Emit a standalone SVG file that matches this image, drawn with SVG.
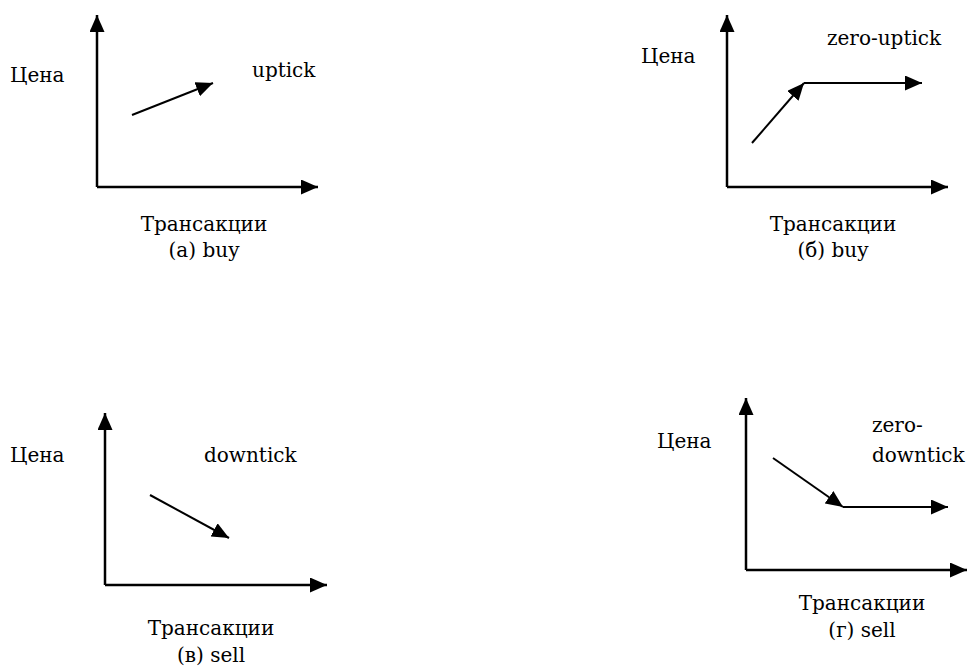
<svg xmlns="http://www.w3.org/2000/svg" width="970" height="668" viewBox="0 0 970 668">
<style>
text{font-family:"DejaVu Serif","Liberation Serif",serif;font-size:20px;fill:#000}
.c{text-anchor:middle}
.ax{stroke:#000;stroke-width:2.5;fill:none}
.ln{stroke:#000;stroke-width:2;fill:none}
</style>
<defs>
<marker id="ah" viewBox="0 0 10 10" refX="10" refY="5" markerWidth="17" markerHeight="15" markerUnits="userSpaceOnUse" orient="auto" preserveAspectRatio="none">
<path d="M0,0 L10,5 L0,10 Z" fill="#000"/>
</marker>
</defs>
<rect width="970" height="668" fill="#fff"/>
<g id="panel-a">
<text x="10" y="82">Цена</text>
<text x="252" y="77">uptick</text>
<text class="c" x="204" y="231">Трансакции</text>
<text class="c" x="204" y="257">(a) buy</text>
</g>
<g id="panel-b">
<text x="641" y="63">Цена</text>
<text x="827" y="45">zero-uptick</text>
<text class="c" x="833" y="231">Трансакции</text>
<text class="c" x="833" y="257">(б) buy</text>
</g>
<g id="panel-c">
<text x="10" y="462">Цена</text>
<text x="204" y="462">downtick</text>
<text class="c" x="211" y="635">Трансакции</text>
<text class="c" x="211" y="662">(в) sell</text>
</g>
<g id="panel-d">
<text x="657" y="448">Цена</text>
<text x="872" y="432">zero-</text>
<text x="872" y="462">downtick</text>
<text class="c" x="862" y="610">Трансакции</text>
<text class="c" x="862" y="637">(г) sell</text>
</g>
<g id="connectors">
<path class="ax" d="M97,187 V15" marker-end="url(#ah)"/>
<path class="ax" d="M97,187 H318" marker-end="url(#ah)"/>
<path class="ln" d="M132,115 L213,83" marker-end="url(#ah)"/>
<path class="ax" d="M727,187 V15" marker-end="url(#ah)"/>
<path class="ax" d="M727,187 H948" marker-end="url(#ah)"/>
<path class="ln" d="M752,143 L804,83" marker-end="url(#ah)"/>
<path class="ln" d="M804,83 H922" marker-end="url(#ah)"/>
<path class="ax" d="M105,585 V413" marker-end="url(#ah)"/>
<path class="ax" d="M105,585 H327" marker-end="url(#ah)"/>
<path class="ln" d="M150,495 L229,538" marker-end="url(#ah)"/>
<path class="ax" d="M746,570 V398" marker-end="url(#ah)"/>
<path class="ax" d="M746,570 H967" marker-end="url(#ah)"/>
<path class="ln" d="M773,458 L843,507" marker-end="url(#ah)"/>
<path class="ln" d="M843,507 H948" marker-end="url(#ah)"/>
</g>
</svg>
